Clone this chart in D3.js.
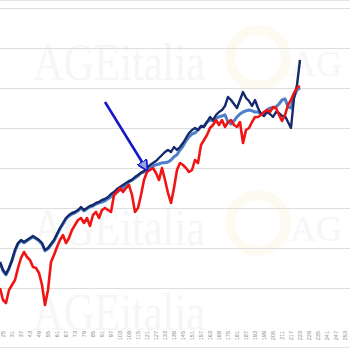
<!DOCTYPE html>
<html><head><meta charset="utf-8">
<script src="https://cdn.jsdelivr.net/npm/d3@7"></script>
<style>html,body{margin:0;padding:0;background:#fff;}svg{display:block;}</style>
</head><body>
<svg id="chart" width="350" height="350"></svg>
<script>
// Categories (x positions, every 2nd period)
const categories = d3.range(23, 224, 2);
// Tick labels on x axis
const tickLabels = d3.range(25, 254, 6);
// Series values
const navySeries = [16.5,14.5,13.5,15,17,19.5,21.25,22,21.5,22,22.5,23,22.5,22,21.25,19.5,20,21,22,23.5,25,26.25,27.5,28.25,28.75,29,29.5,30.25,29.5,30,30.5,30.75,31.25,31.5,32,32.25,32.75,33.5,34,34.75,35.25,35.75,36.25,36.75,37,37.75,38.25,38.75,39.25,40,40.75,41.25,41.75,42.5,43.25,44,44.5,44,45.25,44.5,45.25,46.25,47.5,48.75,49.5,50,49.5,50.5,50.25,51.5,52.75,52,53.25,54,54.5,55.5,57.75,57,56,55,57,59,57.5,56.75,55.5,57,55,53.5,53,54,53.5,52.75,54,53.75,53,53,51.5,50,57.5,60.75,67];
const lightBlueSeries = [16.3,14.3,13.3,14.8,16.8,19.3,21,21.8,21.3,21.8,22.3,22.8,22.3,21.8,21,19.3,19.8,20.8,21.8,23.3,24.8,26,27.3,28,28.5,28.8,29.3,30,29.3,29.8,30.3,30.5,31,31.3,31.5,31.8,32.3,32.8,33.3,34,34.5,35,35.8,36.5,37,37.5,38,38.8,39,39.5,40,40.5,40.8,41,41.3,41.3,41.5,42,42.8,43.3,44.5,45.5,46.8,47.8,48.5,48.8,49.5,50.3,50.5,51.5,52,51.8,52.5,52.8,53,53.3,51.5,51,51.8,52.8,53.5,54,54.3,54.5,54.3,54,54,53.5,53.8,54.5,55,55,55.3,56,57,57.3,55.3,55,57.8,59.5,60];
const redSeries = [10,7,6.25,9.5,10.75,12,15,17.5,19,17.75,17,15.25,15,13.75,10.75,5.75,9.5,16.5,18.25,20.25,22,23.25,21.25,22.5,24.5,25.75,27,27.5,26.25,27.5,25.5,28.25,29,27.5,29.5,30,29.5,29,33.25,34,35,34,35,35.75,33.25,29,30,33.25,37,39,39.5,40,38.75,37,40,37,33.75,31.25,35,39.5,41.25,40.75,40,39,39.5,42,41.25,45.75,47,48.25,50,50.75,52,50.75,52,50.25,51.5,52,50.75,50.25,51.5,46.25,49.5,50,51.5,52.75,52.75,53.25,54,54.5,54,55.25,55,53.25,51.75,53.25,55.75,57,58.75,60,60.5];
const gridValues = [10,20,30,40,50,60,70,80];
// Annotation arrow: [category, value] start and tip
const arrowStart = [93, 56.5];
const arrowTip = [121, 39.5];
const watermarkText = "AGEitalia";
const watermarkShort = "AG";

const svg = d3.select("#chart");
const W = 350, H = 350;
const x = d3.scaleLinear().domain([25, 253]).range([3, 345]);
const y = d3.scaleLinear().domain([0, 80]).range([328, 8]);

// watermark (very faint)
const wm = svg.append("g").attr("font-family", "Liberation Serif, serif").attr("fill", "#f6f6f6");
[[33,80],[33,245],[33,330]].forEach(([tx,ty]) => {
  wm.append("text").attr("x", tx).attr("y", ty).attr("font-size", 52)
    .attr("textLength", 172).attr("lengthAdjust", "spacingAndGlyphs").text(watermarkText);
});
[[290,76],[290,241]].forEach(([tx,ty]) => {
  wm.append("text").attr("x", tx).attr("y", ty).attr("font-size", 36).text(watermarkShort);
  wm.append("circle").attr("cx", tx - 32).attr("cy", ty - 18).attr("r", 28)
    .attr("fill", "none").attr("stroke", "#fdfaf2").attr("stroke-width", 10);
});

// borders
svg.append("line").attr("x1", 0).attr("x2", W).attr("y1", 0.5).attr("y2", 0.5).attr("stroke", "#e3e3e3");
svg.append("line").attr("x1", 0).attr("x2", W).attr("y1", 347.5).attr("y2", 347.5).attr("stroke", "#e3e3e3");

// gridlines
const grid = svg.append("g")
  .call(d3.axisLeft(y).tickValues(gridValues).tickSize(-W).tickFormat(""));
grid.select(".domain").remove();
grid.selectAll(".tick line").attr("stroke", "#dedede").attr("stroke-width", 1);

// x axis labels
const xAxis = svg.append("g").attr("transform", "translate(0,329)")
  .call(d3.axisBottom(x).tickValues(tickLabels).tickSize(0).tickPadding(0).tickFormat(d3.format("d")));
xAxis.select(".domain").remove();
xAxis.selectAll(".tick text")
  .attr("transform", "rotate(-90)")
  .attr("text-anchor", "end")
  .attr("dy", "0.35em")
  .attr("x", -2)
  .attr("y", 0)
  .attr("font-size", 5.5)
  .attr("font-family", "Liberation Sans, Arial, sans-serif")
  .attr("fill", "#8a8a8a");

// lines
const clipId = "plotclip";
svg.append("clipPath").attr("id", clipId).append("rect").attr("x", 0).attr("y", 0).attr("width", W).attr("height", 325);
const plot = svg.append("g").attr("clip-path", `url(#${clipId})`);
const line = d3.line().x((d, i) => x(categories[i])).y(d => y(d));
plot.append("path").datum(lightBlueSeries).attr("d", line).attr("fill", "none")
  .attr("stroke", "#4f7fc6").attr("stroke-width", 3).attr("stroke-linejoin", "round");
plot.append("path").datum(navySeries).attr("d", line).attr("fill", "none")
  .attr("stroke", "#142a6a").attr("stroke-width", 2.4).attr("stroke-linejoin", "round");
plot.append("path").datum(redSeries).attr("d", line).attr("fill", "none")
  .attr("stroke", "#f01515").attr("stroke-width", 2.6).attr("stroke-linejoin", "round");

// arrow
svg.append("defs").append("marker").attr("id", "ah")
  .attr("viewBox", "0 0 10 10").attr("refX", 9).attr("refY", 5)
  .attr("markerWidth", 4.2).attr("markerHeight", 4.2).attr("orient", "auto")
  .append("path").attr("d", "M0,0L10,5L0,10Z").attr("fill", "#8fa6e0").attr("stroke", "#1818c8").attr("stroke-width", 1.6);
svg.append("line")
  .attr("x1", x(arrowStart[0])).attr("y1", y(arrowStart[1]))
  .attr("x2", x(arrowTip[0])).attr("y2", y(arrowTip[1]))
  .attr("stroke", "#1818c8").attr("stroke-width", 2.6).attr("marker-end", "url(#ah)");
</script>
</body></html>
